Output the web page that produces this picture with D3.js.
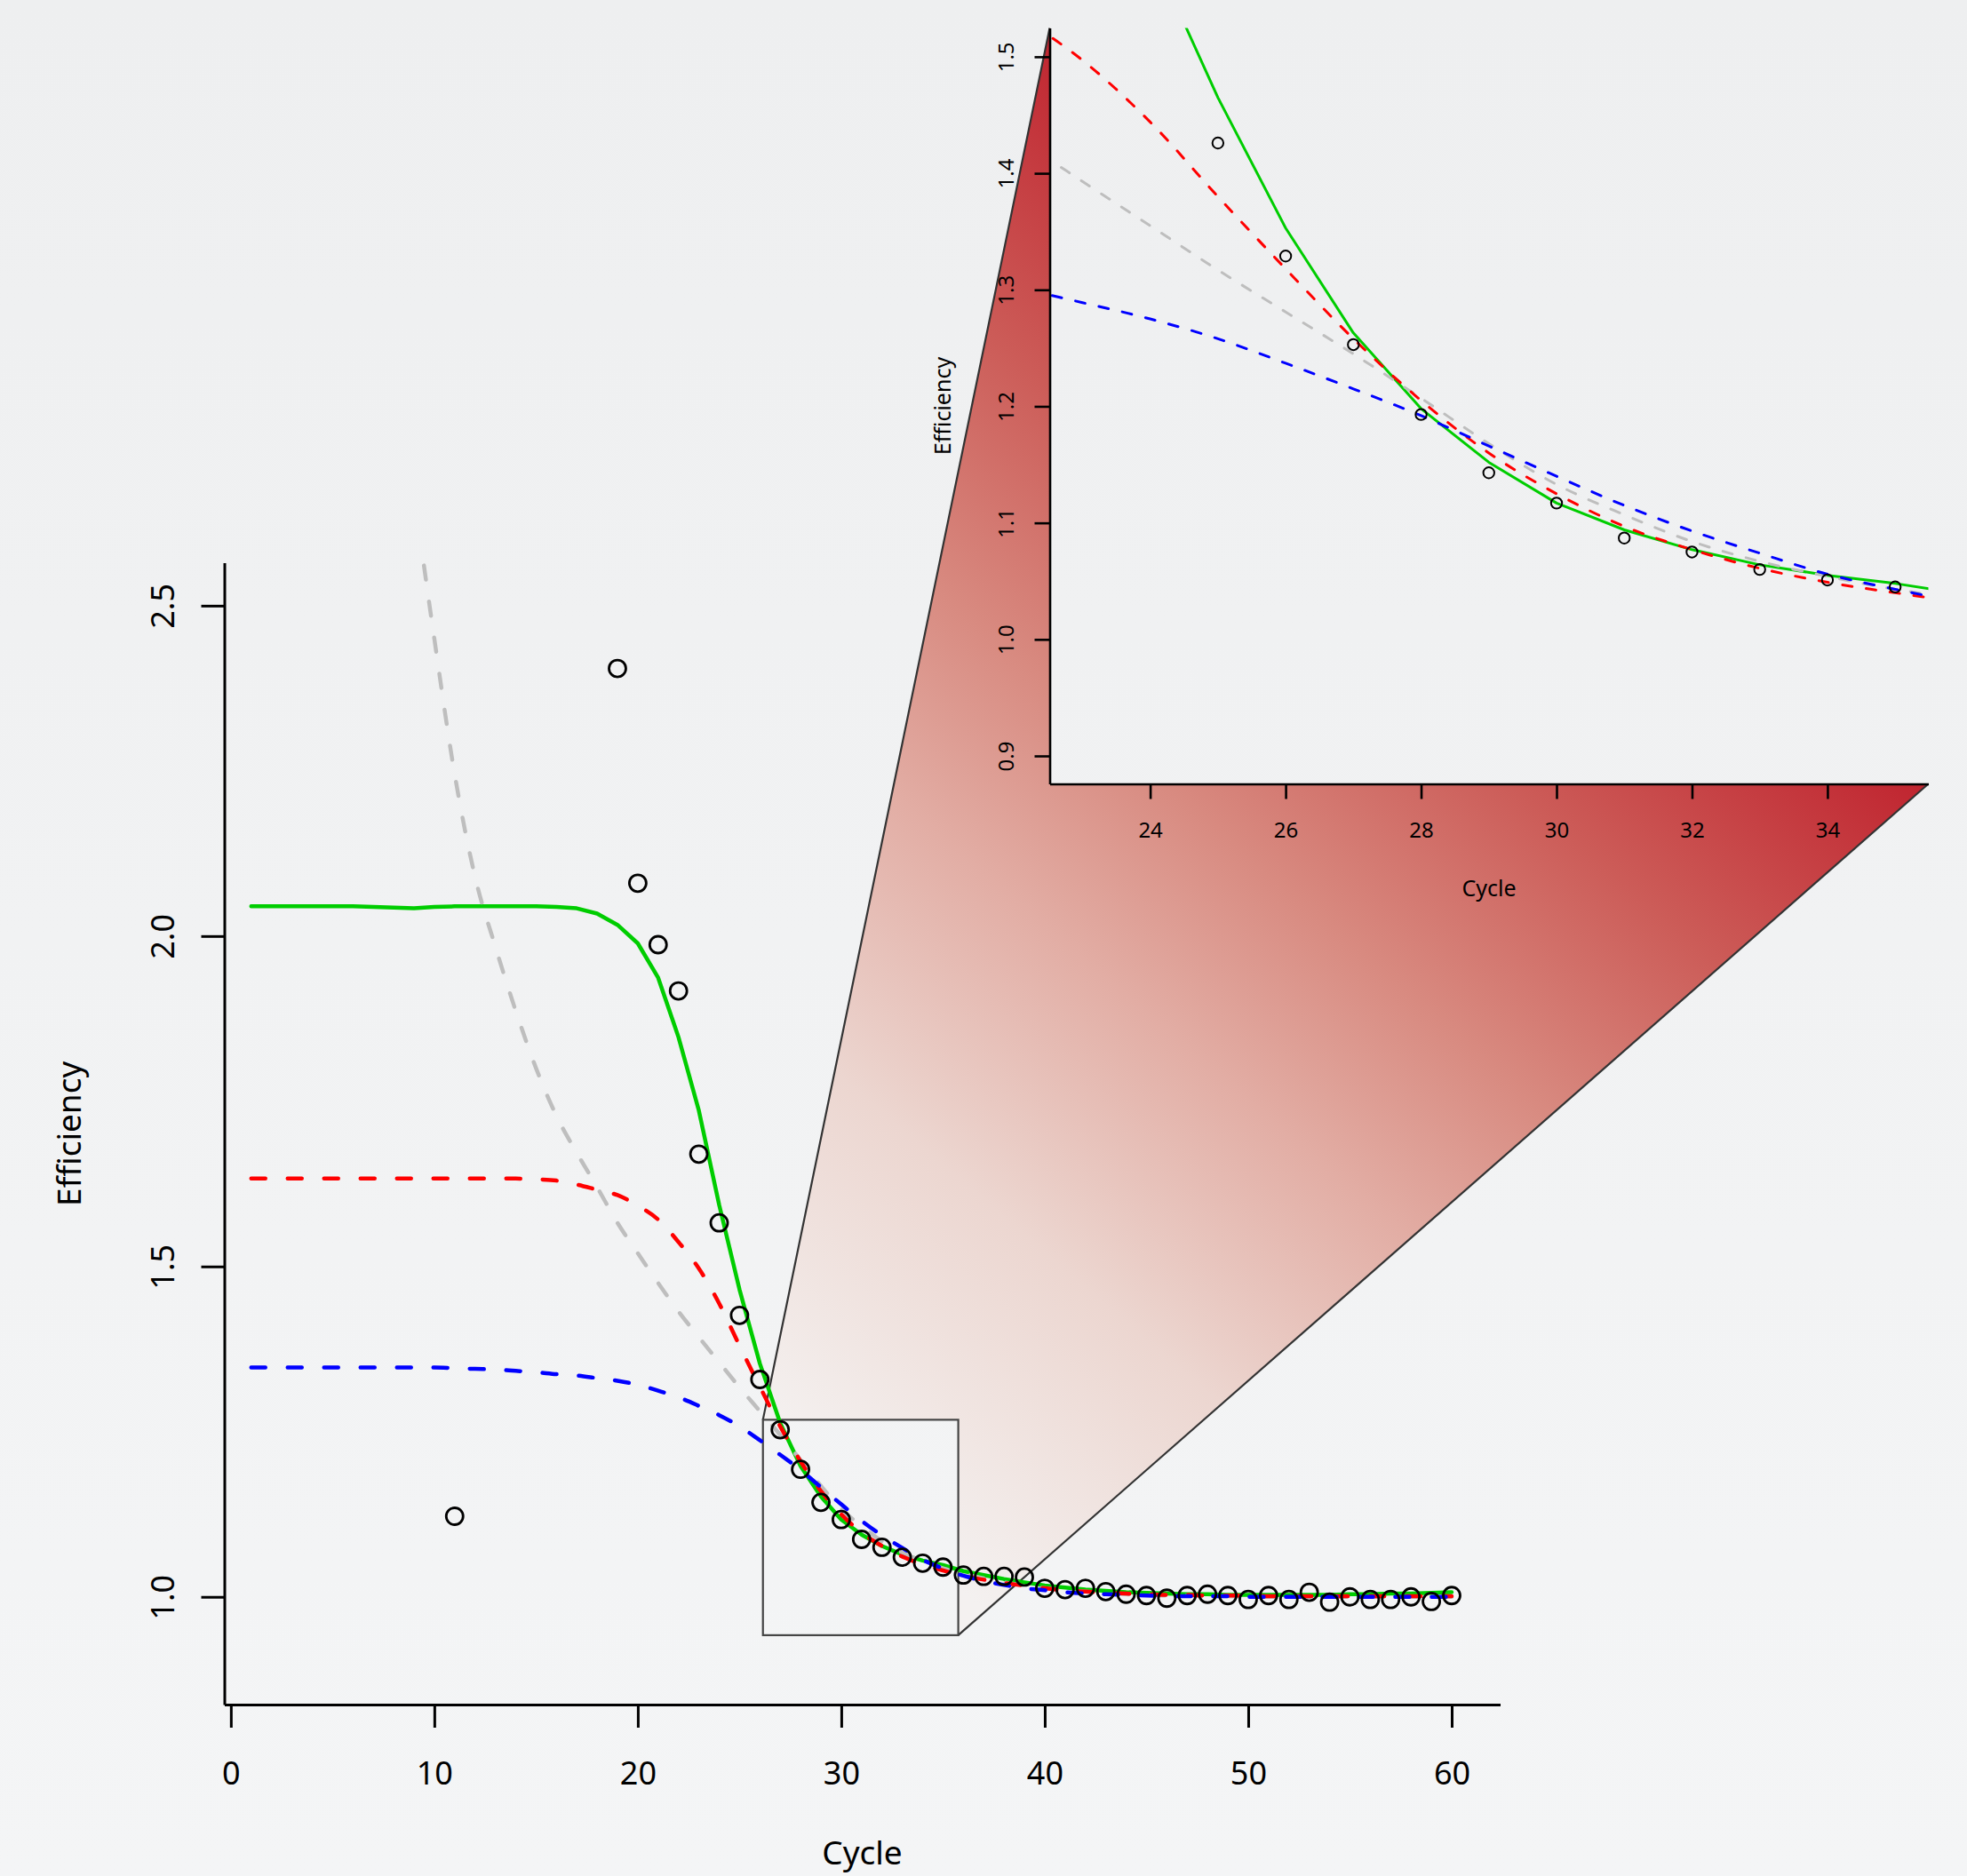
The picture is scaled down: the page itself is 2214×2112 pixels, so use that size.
<!DOCTYPE html>
<html>
<head>
<meta charset="utf-8">
<script src="https://cdn.jsdelivr.net/npm/d3@7"></script>
<style>
  html, body { margin: 0; padding: 0; background: #f2f3f4; }
  svg { display: block; font-family: "Noto Sans", sans-serif; }
</style>
</head>
<body>
<svg id="chart" width="2214" height="2112"></svg>
<script>
// 観測点（表示範囲内のもののみ）
const pointCycles = [11, 19, 20, 21, 22, 23, 24, 25, 26, 27, 28, 29, 30, 31, 32, 33, 34, 35,
  36, 37, 38, 39, 40, 41, 42, 43, 44, 45, 46, 47, 48, 49, 50, 51, 52, 53, 54, 55, 56, 57, 58, 59, 60];
const pointEff = [1.122, 2.405, 2.080, 1.987, 1.917, 1.670, 1.566, 1.426, 1.329, 1.253, 1.193, 1.143, 1.117, 1.087, 1.075, 1.060, 1.051, 1.045,
  1.033, 1.031, 1.031, 1.030, 1.013, 1.011, 1.013, 1.008, 1.004, 1.002, 0.998, 1.002, 1.004, 1.002, 0.996, 1.002, 0.996, 1.007, 0.992, 1.000, 0.996, 0.996, 1.000, 0.993, 1.002];

// モデル曲線
const curveCycles = [1, 2, 3, 4, 5, 6, 7, 8, 9, 10, 11, 12, 13, 14, 15, 16, 17, 18, 19, 20,
  21, 22, 23, 24, 25, 26, 27, 28, 29, 30, 31, 32, 33, 34, 35, 36, 37, 38, 39, 40,
  41, 42, 43, 44, 45, 46, 47, 48, 49, 50, 51, 52, 53, 54, 55, 56, 57, 58, 59, 60];
const greenEff = [2.045, 2.045, 2.045, 2.045, 2.045, 2.045, 2.044, 2.043, 2.042, 2.044, 2.045, 2.045, 2.045, 2.045, 2.045, 2.044, 2.042, 2.034, 2.017, 1.989,
  1.937, 1.847, 1.736, 1.593, 1.465, 1.353, 1.263, 1.198, 1.152, 1.117, 1.094, 1.077, 1.064, 1.055, 1.048, 1.039, 1.033, 1.027, 1.022, 1.017,
  1.014, 1.011, 1.009, 1.007, 1.006, 1.005, 1.004, 1.004, 1.003, 1.003, 1.003, 1.003, 1.003, 1.003, 1.004, 1.004, 1.005, 1.005, 1.006, 1.007];
const redEff = [1.633, 1.633, 1.633, 1.633, 1.633, 1.633, 1.633, 1.633, 1.633, 1.633, 1.633, 1.633, 1.633, 1.633, 1.632, 1.630, 1.624, 1.616, 1.608, 1.592,
  1.571, 1.537, 1.497, 1.444, 1.380, 1.318, 1.258, 1.205, 1.160, 1.125, 1.097, 1.077, 1.061, 1.049, 1.040, 1.032, 1.026, 1.021, 1.017, 1.013,
  1.010, 1.008, 1.006, 1.005, 1.004, 1.003, 1.003, 1.002, 1.002, 1.002, 1.001, 1.001, 1.001, 1.001, 1.001, 1.001, 1.001, 1.001, 1.001, 1.001];
const blueEff = [1.347, 1.347, 1.347, 1.347, 1.347, 1.347, 1.347, 1.347, 1.347, 1.347, 1.346, 1.345, 1.344, 1.342, 1.340, 1.337, 1.335, 1.331, 1.327, 1.321,
  1.312, 1.302, 1.289, 1.275, 1.258, 1.237, 1.215, 1.192, 1.166, 1.140, 1.115, 1.093, 1.074, 1.056, 1.043, 1.032, 1.024, 1.018, 1.013, 1.010,
  1.007, 1.005, 1.004, 1.003, 1.002, 1.001, 1.001, 1.001, 1.001, 1.000, 1.000, 1.000, 1.000, 1.000, 1.000, 1.000, 1.000, 1.000, 1.000, 1.000];
const grayCycles = [9, 10, 11, 12, 13, 14, 15, 16, 17, 18, 19, 20, 21, 22, 23, 24, 25, 26, 27, 28, 29, 30,
  31, 32, 33, 34, 35, 36, 37, 38, 39, 40, 41, 42, 43, 44, 45, 46, 47, 48, 49, 50, 51, 52, 53, 54, 55, 56, 57, 58, 59, 60];
const grayEff = [2.67, 2.45, 2.245, 2.09, 1.984, 1.887, 1.80, 1.728, 1.672, 1.62, 1.566, 1.52, 1.475, 1.432, 1.393, 1.355, 1.317, 1.281, 1.245, 1.207, 1.168, 1.133,
  1.107, 1.084, 1.067, 1.054, 1.043, 1.035, 1.028, 1.022, 1.017, 1.013, 1.010, 1.008, 1.006, 1.004, 1.003, 1.002, 1.002, 1.001, 1.001, 1.000, 1.000, 1.000, 1.000, 1.000, 1.000, 1.000, 1.000, 1.000, 1.000, 1.000];

// 目盛
const mainXTicks = [0, 10, 20, 30, 40, 50, 60];
const mainYTicks = [1.0, 1.5, 2.0, 2.5];
const insetXTicks = [24, 26, 28, 30, 32, 34];
const insetYTicks = [0.9, 1.0, 1.1, 1.2, 1.3, 1.4, 1.5];

// 拡大枠（主図上の範囲）
const zoomCycles = [26.15, 35.75];
const zoomEff = [0.942, 1.268];

const svg = d3.select('#chart');
const defs = svg.append('defs');

const bgGrad = defs.append('linearGradient').attr('id', 'bg')
  .attr('gradientUnits', 'userSpaceOnUse')
  .attr('x1', 0).attr('y1', 0).attr('x2', 0).attr('y2', 2112);
bgGrad.append('stop').attr('offset', 0).attr('stop-color', '#eeeff0');
bgGrad.append('stop').attr('offset', 1).attr('stop-color', '#f4f5f6');
svg.append('rect').attr('width', 2214).attr('height', 2112).attr('fill', 'url(#bg)');

const mainX = d3.scaleLinear().domain([-0.32, 62.38]).range([252.5, 1688.5]);
const mainY = d3.scaleLinear().domain([0.837, 2.565]).range([1919, 633.5]);
const insX = d3.scaleLinear().domain([22.516, 35.49]).range([1181.5, 2170.5]);
const insY = d3.scaleLinear().domain([0.876, 1.5247]).range([882.5, 31.5]);

// 拡大の漏斗
const rTL = [mainX(zoomCycles[0]), mainY(zoomEff[1])];
const rTR = [mainX(zoomCycles[1]), mainY(zoomEff[1])];
const rBR = [mainX(zoomCycles[1]), mainY(zoomEff[0])];
const iTL = [insX.range()[0], insY.range()[1]];
const iBR = [insX.range()[1], insY.range()[0]];

const len = Math.hypot(iBR[0] - iTL[0], iBR[1] - iTL[1]);
const nx = (iBR[1] - iTL[1]) / len;
const ny = -(iBR[0] - iTL[0]) / len;
const dist = (iTL[0] - rTL[0]) * nx + (iTL[1] - rTL[1]) * ny;

const funnelGrad = defs.append('linearGradient').attr('id', 'funnel')
  .attr('gradientUnits', 'userSpaceOnUse')
  .attr('x1', rTL[0]).attr('y1', rTL[1])
  .attr('x2', rTL[0] + dist * nx).attr('y2', rTL[1] + dist * ny);
[[0, '#f4f1f0'], [0.25, '#ecd6d0'], [0.45, '#e2ada4'], [0.6, '#d88a80'], [0.78, '#cc5c58'], [1, '#c0242f']]
  .forEach(([o, c]) => funnelGrad.append('stop').attr('offset', o).attr('stop-color', c));

svg.append('path')
  .attr('d', 'M' + [rTL, iTL, iBR, rBR, rTR].map(p => p.join(',')).join('L') + 'Z')
  .attr('fill', 'url(#funnel)');
svg.append('path')
  .attr('d', `M${rTL}L${iTL}M${rBR}L${iBR}`)
  .attr('stroke', '#333').attr('stroke-width', 2.2).attr('fill', 'none');

// 挿入図の背景
svg.append('rect')
  .attr('x', iTL[0]).attr('y', iTL[1])
  .attr('width', iBR[0] - iTL[0]).attr('height', iBR[1] - iTL[1])
  .attr('fill', 'url(#bg)');

defs.append('clipPath').attr('id', 'clipMain').append('rect')
  .attr('x', mainX.range()[0]).attr('y', mainY.range()[1])
  .attr('width', mainX.range()[1] - mainX.range()[0]).attr('height', mainY.range()[0] - mainY.range()[1]);
defs.append('clipPath').attr('id', 'clipInset').append('rect')
  .attr('x', iTL[0]).attr('y', iTL[1])
  .attr('width', iBR[0] - iTL[0]).attr('height', iBR[1] - iTL[1]);

// 主図の拡大枠
svg.append('rect')
  .attr('x', rTL[0]).attr('y', rTL[1])
  .attr('width', rBR[0] - rTL[0]).attr('height', rBR[1] - rTL[1])
  .attr('fill', 'none').attr('stroke', '#444').attr('stroke-width', 2.2);

const series = [
  { xs: curveCycles, ys: greenEff, color: '#00cd00', dashed: false, smooth: false },
  { xs: grayCycles, ys: grayEff, color: '#bebebe', dashed: true, smooth: true },
  { xs: curveCycles, ys: redEff, color: '#ff0000', dashed: true, smooth: true },
  { xs: curveCycles, ys: blueEff, color: '#0000ff', dashed: true, smooth: true }
];

const drawPanel = ({ x, y, clip, lw, dash, r, pw }) => {
  const g = svg.append('g').attr('clip-path', `url(#${clip})`);
  series.forEach(s => {
    const line = d3.line()
      .x(i => x(s.xs[i]))
      .y(i => y(s.ys[i]))
      .curve(s.smooth ? d3.curveMonotoneX : d3.curveLinear);
    g.append('path')
      .attr('d', line(d3.range(s.xs.length)))
      .attr('fill', 'none')
      .attr('stroke', s.color)
      .attr('stroke-width', lw)
      .attr('stroke-linecap', 'round')
      .attr('stroke-linejoin', 'round')
      .attr('stroke-dasharray', s.dashed ? dash : null);
  });
  g.selectAll('circle.pt')
    .data(pointCycles.map((c, i) => [c, pointEff[i]]))
    .join('circle')
    .attr('class', 'pt')
    .attr('cx', d => x(d[0]))
    .attr('cy', d => y(d[1]))
    .attr('r', r)
    .attr('fill', 'none')
    .attr('stroke', '#000')
    .attr('stroke-width', pw);
};

drawPanel({ x: mainX, y: mainY, clip: 'clipMain', lw: 4.5, dash: '16,25', r: 9.5, pw: 2.8 });
drawPanel({ x: insX, y: insY, clip: 'clipInset', lw: 3, dash: '11,16', r: 6.2, pw: 2 });

const drawAxes = ({ x, y, xTicks, yTicks, tick, font, xLab, yLab, xLabY, yLabX, titleX, titleY, sw }) => {
  const gx = svg.append('g')
    .attr('transform', `translate(0,${y.range()[0]})`)
    .call(d3.axisBottom(x).tickValues(xTicks).tickSize(tick).tickSizeOuter(0).tickFormat(d3.format('d')));
  const gy = svg.append('g')
    .attr('transform', `translate(${x.range()[0]},0)`)
    .call(d3.axisLeft(y).tickValues(yTicks).tickSize(tick).tickSizeOuter(0).tickFormat(d3.format('.1f')));
  [gx, gy].forEach(g => {
    g.selectAll('path.domain').attr('stroke', '#000').attr('stroke-width', sw);
    g.selectAll('.tick line').attr('stroke', '#000').attr('stroke-width', sw);
    g.selectAll('.tick text')
      .attr('fill', '#000')
      .style('font-family', '"Noto Sans", sans-serif')
      .style('font-size', font + 'px');
  });
  gx.selectAll('.tick text').attr('dy', null).attr('y', xLabY);
  gy.selectAll('.tick text')
    .attr('dy', null).attr('x', null)
    .attr('text-anchor', 'middle')
    .attr('transform', `translate(${yLabX},0) rotate(-90)`);

  svg.append('text')
    .attr('x', (x.range()[0] + x.range()[1]) / 2)
    .attr('y', titleY)
    .attr('text-anchor', 'middle')
    .style('font-size', (font + 1) + 'px')
    .text(xLab);
  svg.append('text')
    .attr('transform', `translate(${titleX},${(y.range()[0] + y.range()[1]) / 2}) rotate(-90)`)
    .attr('text-anchor', 'middle')
    .style('font-size', (font + 1) + 'px')
    .text(yLab);
};

drawAxes({ x: mainX, y: mainY, xTicks: mainXTicks, yTicks: mainYTicks, tick: 26, font: 36,
  xLab: 'Cycle', yLab: 'Efficiency', xLabY: 90, yLabX: -57, titleX: 91, titleY: 2099, sw: 3 });
drawAxes({ x: insX, y: insY, xTicks: insetXTicks, yTicks: insetYTicks, tick: 17, font: 24,
  xLab: 'Cycle', yLab: 'Efficiency', xLabY: 60, yLabX: -41, titleX: 1070, titleY: 1009, sw: 2.6 });
</script>
</body>
</html>
